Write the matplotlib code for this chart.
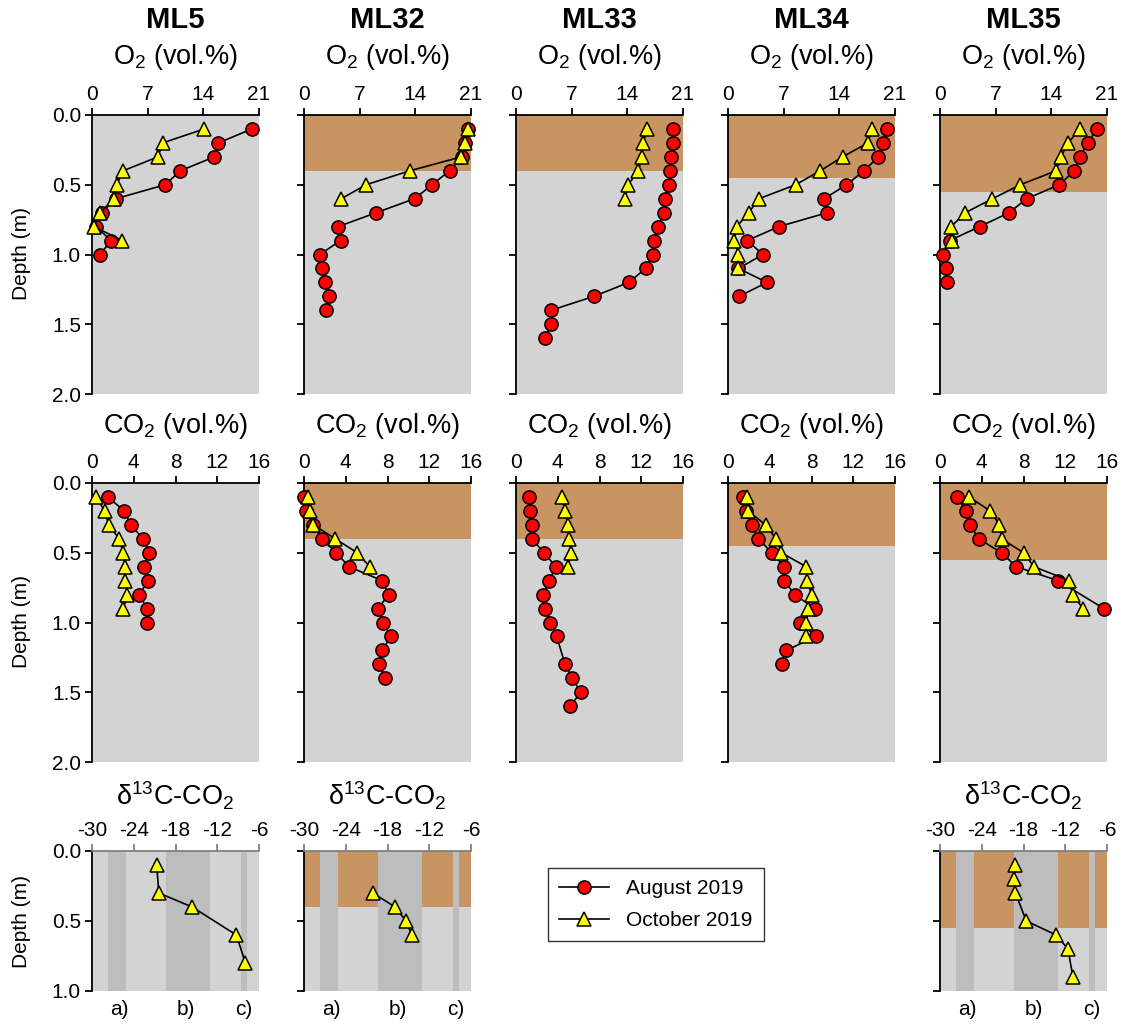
import matplotlib.pyplot as plt
from matplotlib.lines import Line2D

plt.rcParams['font.family'] = ['Liberation Sans', 'DejaVu Sans']
plt.rcParams['mathtext.default'] = 'regular'

W, H = 1122, 1024

stations = ['ML5', 'ML32', 'ML33', 'ML34', 'ML35']
soil_bottom = [None, 0.4, 0.4, 0.45, 0.55]   # depth of brown (soil) layer

# ---- O2 (vol.%) ----
o2_aug_ml5 = [20.1, 15.9, 15.4, 11.1, 9.2, 3.0, 1.2, 0.5, 2.4, 1.0]
o2_aug_ml5_z = [0.1, 0.2, 0.3, 0.4, 0.5, 0.6, 0.7, 0.8, 0.9, 1.0]
o2_oct_ml5 = [14.1, 8.9, 8.3, 3.9, 3.1, 2.8, 1.0, 0.25, 3.8]
o2_oct_ml5_z = [0.1, 0.2, 0.3, 0.4, 0.5, 0.6, 0.7, 0.8, 0.9]

o2_aug_ml32 = [20.6, 20.3, 19.9, 18.3, 16.1, 13.9, 9.1, 4.3, 4.6, 2.0, 2.3, 2.6, 3.2, 2.8]
o2_aug_ml32_z = [0.1, 0.2, 0.3, 0.4, 0.5, 0.6, 0.7, 0.8, 0.9, 1.0, 1.1, 1.2, 1.3, 1.4]
o2_oct_ml32 = [20.6, 20.3, 19.8, 13.3, 7.8, 4.7]
o2_oct_ml32_z = [0.1, 0.2, 0.3, 0.4, 0.5, 0.6]

o2_aug_ml33 = [19.8, 19.7, 19.5, 19.4, 19.3, 18.7, 18.6, 17.9, 17.4, 17.2, 16.3, 14.2, 9.8, 4.4, 4.4, 3.7]
o2_aug_ml33_z = [0.1, 0.2, 0.3, 0.4, 0.5, 0.6, 0.7, 0.8, 0.9, 1.0, 1.1, 1.2, 1.3, 1.4, 1.5, 1.6]
o2_oct_ml33 = [16.5, 16.0, 15.8, 15.4, 14.1, 13.7]
o2_oct_ml33_z = [0.1, 0.2, 0.3, 0.4, 0.5, 0.6]

o2_aug_ml34 = [20.0, 19.5, 18.9, 17.1, 14.9, 12.1, 12.5, 6.4, 2.4, 4.4, 1.3, 4.9, 1.4]
o2_aug_ml34_z = [0.1, 0.2, 0.3, 0.4, 0.5, 0.6, 0.7, 0.8, 0.9, 1.0, 1.1, 1.2, 1.3]
o2_oct_ml34 = [18.1, 17.6, 14.4, 11.6, 8.5, 3.9, 2.6, 1.1, 0.8, 1.3, 1.3]
o2_oct_ml34_z = [0.1, 0.2, 0.3, 0.4, 0.5, 0.6, 0.7, 0.8, 0.9, 1.0, 1.1]

o2_aug_ml35 = [19.7, 18.6, 17.6, 16.9, 15.0, 10.9, 8.7, 5.0, 1.2, 0.4, 0.7, 0.9]
o2_aug_ml35_z = [0.1, 0.2, 0.3, 0.4, 0.5, 0.6, 0.7, 0.8, 0.9, 1.0, 1.1, 1.2]
o2_oct_ml35 = [17.6, 16.1, 15.2, 14.6, 10.1, 6.6, 3.2, 1.4, 1.5]
o2_oct_ml35_z = [0.1, 0.2, 0.3, 0.4, 0.5, 0.6, 0.7, 0.8, 0.9]

# ---- CO2 (vol.%) ----
co2_aug_ml5 = [1.5, 3.1, 3.7, 4.9, 5.5, 5.0, 5.4, 4.5, 5.3, 5.3]
co2_aug_ml5_z = [0.1, 0.2, 0.3, 0.4, 0.5, 0.6, 0.7, 0.8, 0.9, 1.0]
co2_oct_ml5 = [0.4, 1.2, 1.6, 2.6, 3.0, 3.2, 3.2, 3.4, 3.0]
co2_oct_ml5_z = [0.1, 0.2, 0.3, 0.4, 0.5, 0.6, 0.7, 0.8, 0.9]

co2_aug_ml32 = [0.0, 0.2, 0.9, 1.7, 3.1, 4.3, 7.5, 8.1, 7.1, 7.6, 8.3, 7.5, 7.2, 7.8]
co2_aug_ml32_z = [0.1, 0.2, 0.3, 0.4, 0.5, 0.6, 0.7, 0.8, 0.9, 1.0, 1.1, 1.2, 1.3, 1.4]
co2_oct_ml32 = [0.4, 0.6, 0.9, 3.0, 5.1, 6.3]
co2_oct_ml32_z = [0.1, 0.2, 0.3, 0.4, 0.5, 0.6]

co2_aug_ml33 = [1.2, 1.3, 1.5, 1.5, 2.7, 3.8, 3.2, 2.6, 2.8, 3.3, 3.9, 4.7, 5.4, 6.2, 5.2]
co2_aug_ml33_z = [0.1, 0.2, 0.3, 0.4, 0.5, 0.6, 0.7, 0.8, 0.9, 1.0, 1.1, 1.3, 1.4, 1.5, 1.6]
co2_oct_ml33 = [4.4, 4.7, 4.95, 5.05, 5.3, 5.0]
co2_oct_ml33_z = [0.1, 0.2, 0.3, 0.4, 0.5, 0.6]

co2_aug_ml34 = [1.4, 1.7, 2.3, 2.9, 4.2, 5.4, 5.4, 6.4, 8.3, 6.9, 8.4, 5.6, 5.2]
co2_aug_ml34_z = [0.1, 0.2, 0.3, 0.4, 0.5, 0.6, 0.7, 0.8, 0.9, 1.0, 1.1, 1.2, 1.3]
co2_oct_ml34 = [1.8, 1.9, 3.6, 4.6, 5.1, 7.5, 7.6, 8.0, 7.7, 7.5, 7.5]
co2_oct_ml34_z = [0.1, 0.2, 0.3, 0.4, 0.5, 0.6, 0.7, 0.8, 0.9, 1.0, 1.1]

co2_aug_ml35 = [1.6, 2.5, 2.9, 3.7, 5.9, 7.3, 11.3, 15.7]
co2_aug_ml35_z = [0.1, 0.2, 0.3, 0.4, 0.5, 0.6, 0.7, 0.9]
co2_oct_ml35 = [2.8, 4.8, 5.7, 5.9, 8.0, 9.0, 12.4, 12.7, 13.7]
co2_oct_ml35_z = [0.1, 0.2, 0.3, 0.4, 0.5, 0.6, 0.7, 0.8, 0.9]

# ---- d13C-CO2 (October only) ----
d13_ml5 = [-20.7, -20.4, -15.6, -9.25, -7.95]
d13_ml5_z = [0.1, 0.3, 0.4, 0.6, 0.8]
d13_ml32 = [-20.1, -16.9, -15.35, -14.5]
d13_ml32_z = [0.3, 0.4, 0.5, 0.6]
d13_ml35 = [-19.15, -19.3, -19.15, -17.6, -13.3, -11.6, -10.9]
d13_ml35_z = [0.1, 0.2, 0.3, 0.5, 0.6, 0.7, 0.9]

# source ranges shown as darker bands, and their labels
bands = [(-27.75, -25.1), (-19.35, -13.1), (-8.55, -7.7)]
band_labels = ['a)', 'b)', 'c)']
band_label_x = [-26.0, -16.5, -8.2]

o2_sets = [(o2_aug_ml5_z, o2_aug_ml5, o2_oct_ml5_z, o2_oct_ml5),
           (o2_aug_ml32_z, o2_aug_ml32, o2_oct_ml32_z, o2_oct_ml32),
           (o2_aug_ml33_z, o2_aug_ml33, o2_oct_ml33_z, o2_oct_ml33),
           (o2_aug_ml34_z, o2_aug_ml34, o2_oct_ml34_z, o2_oct_ml34),
           (o2_aug_ml35_z, o2_aug_ml35, o2_oct_ml35_z, o2_oct_ml35)]
co2_sets = [(co2_aug_ml5_z, co2_aug_ml5, co2_oct_ml5_z, co2_oct_ml5),
            (co2_aug_ml32_z, co2_aug_ml32, co2_oct_ml32_z, co2_oct_ml32),
            (co2_aug_ml33_z, co2_aug_ml33, co2_oct_ml33_z, co2_oct_ml33),
            (co2_aug_ml34_z, co2_aug_ml34, co2_oct_ml34_z, co2_oct_ml34),
            (co2_aug_ml35_z, co2_aug_ml35, co2_oct_ml35_z, co2_oct_ml35)]
d13_sets = {0: (d13_ml5_z, d13_ml5), 1: (d13_ml32_z, d13_ml32), 4: (d13_ml35_z, d13_ml35)}

GREY = '#d3d3d3'
BROWN = '#c89461'
BAND = '#bdbdbd'

aug_style = dict(color='black', lw=1.2, marker='o', ms=9.5, mfc='red', mec='black', mew=1.1)
oct_style = dict(color='black', lw=1.2, marker='^', ms=10, mfc='yellow', mec='black', mew=1.1)

fig = plt.figure(figsize=(W / 100, H / 100), dpi=100)

lefts = [92, 304, 516, 728, 940]
pw = 167


def make_ax(col, y0, y1, xlim, xticks, ylim, yticks, soil, spine_col='black'):
    ax = fig.add_axes([lefts[col] / W, 1 - y1 / H, pw / W, (y1 - y0) / H])
    ax.set_facecolor(GREY)
    if soil is not None:
        ax.axhspan(0, soil, color=BROWN, lw=0, zorder=0)
    for s in ['right', 'bottom']:
        ax.spines[s].set_visible(False)
    ax.spines['left'].set_linewidth(1.3)
    ax.spines['top'].set_linewidth(1.3)
    ax.spines['top'].set_color(spine_col)
    ax.xaxis.tick_top()
    ax.set_xlim(*xlim)
    ax.set_xticks(xticks)
    ax.set_xticklabels([str(t) for t in xticks])
    ax.set_ylim(*ylim)
    ax.set_yticks(yticks)
    ax.set_yticklabels(['%.1f' % t for t in yticks])
    ax.tick_params(direction='out', length=5, width=1.3, labelsize=15, pad=3)
    ax.tick_params(axis='x', color=spine_col)
    if col > 0:
        ax.tick_params(labelleft=False)
    return ax


def ftext(x, y, s, **kw):
    fig.text(x / W, 1 - y / H, s, **kw)


for i, name in enumerate(stations):
    cx = lefts[i] + pw / 2
    ftext(cx, 28, name, ha='center', va='baseline', fontsize=21, fontweight='bold')

    # O2 row
    ax = make_ax(i, 115, 394, (0, 21), [0, 7, 14, 21], (2, 0), [0, 0.5, 1, 1.5, 2], soil_bottom[i])
    za, va, zo, vo = o2_sets[i]
    ax.plot(va, za, **aug_style, clip_on=False, zorder=3)
    ax.plot(vo, zo, **oct_style, clip_on=False, zorder=4)
    ftext(cx, 64, 'O$_2$ (vol.%)', ha='center', va='baseline', fontsize=19.5)

    # CO2 row
    ax = make_ax(i, 483, 762, (0, 16), [0, 4, 8, 12, 16], (2, 0), [0, 0.5, 1, 1.5, 2], soil_bottom[i])
    za, va, zo, vo = co2_sets[i]
    ax.plot(va, za, **aug_style, clip_on=False, zorder=3)
    ax.plot(vo, zo, **oct_style, clip_on=False, zorder=4)
    ftext(cx, 433, 'CO$_2$ (vol.%)', ha='center', va='baseline', fontsize=19.5)

    # d13C row
    if i in d13_sets:
        ax = make_ax(i, 851, 991, (-30, -6), [-30, -24, -18, -12, -6], (1, 0), [0, 0.5, 1],
                     soil_bottom[i], spine_col='#808080')
        for lo, hi in bands:
            ax.axvspan(lo, hi, color=BAND, lw=0, zorder=1)
        z, v = d13_sets[i]
        ax.plot(v, z, **oct_style, clip_on=False, zorder=4)
        for lx, lab in zip(band_label_x, band_labels):
            ax.text(lx, 1.13, lab, ha='center', va='center', fontsize=15, clip_on=False)
        ftext(cx, 806, 'δ$^{13}$C-CO$_2$', ha='center', va='baseline', fontsize=19.5)

ftext(22, 253, 'Depth (m)', rotation=90, ha='center', va='center', fontsize=15)
ftext(22, 622, 'Depth (m)', rotation=90, ha='center', va='center', fontsize=15)
ftext(22, 921, 'Depth (m)', rotation=90, ha='center', va='center', fontsize=15)

handles = [Line2D([], [], **aug_style), Line2D([], [], **oct_style)]
leg = fig.legend(handles, ['August 2019', 'October 2019'], loc='upper left',
                 bbox_to_anchor=(548 / W, 1 - 868 / H), borderaxespad=0, frameon=True,
                 fancybox=False, edgecolor='black', fontsize=15, handlelength=2.4,
                 labelspacing=0.6, borderpad=0.55)
leg.get_frame().set_linewidth(1.0)

fig.savefig('out.png', dpi=100)
